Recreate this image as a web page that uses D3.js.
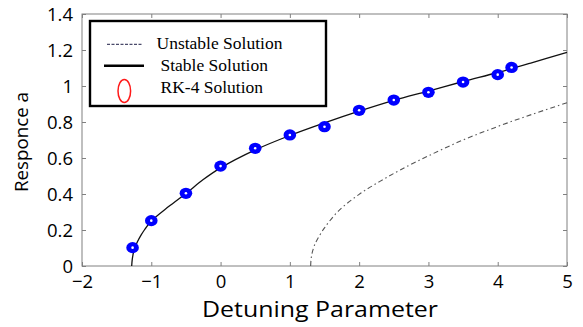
<!DOCTYPE html>
<html>
<head>
<meta charset="utf-8">
<script src="https://cdn.jsdelivr.net/npm/d3@7"></script>
<style>
  html, body { margin: 0; padding: 0; background: #fff; }
  svg { display: block; }
</style>
</head>
<body>
<svg id="chart" width="583" height="327"></svg>
<script>
// ---- data ----
const stableX = [-1.283, -1.275, -1.26, -1.24, -1.2, -1.15, -1.1, -1.0, -0.75, -0.5, -0.25, 0, 0.5, 1.0, 1.5, 2.0, 2.5, 3.0, 3.5, 4.0, 4.5, 5.0];
const stableY = [0, 0.035, 0.07, 0.1, 0.135, 0.17, 0.2, 0.25, 0.33, 0.403, 0.48, 0.545, 0.645, 0.725, 0.795, 0.86, 0.92, 0.972, 1.025, 1.075, 1.13, 1.187];

const unstableX = [1.30, 1.305, 1.315, 1.33, 1.36, 1.4, 1.5, 1.7, 2.0, 2.3, 2.6, 3.0, 3.5, 4.0, 4.5, 5.0];
const unstableY = [0, 0.033, 0.06, 0.085, 0.12, 0.15, 0.212, 0.305, 0.398, 0.47, 0.535, 0.612, 0.7, 0.775, 0.843, 0.907];

const rk4X = [-1.27, -1.0, -0.5, 0, 0.5, 1.0, 1.5, 2.0, 2.5, 3.0, 3.5, 4.0, 4.2];
const rk4Y = [0.102, 0.252, 0.404, 0.555, 0.654, 0.728, 0.774, 0.865, 0.922, 0.965, 1.022, 1.063, 1.103];

const xTicks = [-2, -1, 0, 1, 2, 3, 4, 5];
const yTicks = [0, 0.2, 0.4, 0.6, 0.8, 1, 1.2, 1.4];
const xTickLabels = ["\u22122", "\u22121", "0", "1", "2", "3", "4", "5"];
const yTickLabels = ["0", "0.2", "0.4", "0.6", "0.8", "1", "1.2", "1.4"];

const legendLabels = ["Unstable Solution", "Stable Solution", "RK-4 Solution"];
const xTitle = "Detuning Parameter";
const yTitle = "Responce a";

// ---- layout ----
const svg = d3.select("#chart");
const L = 82, R = 567, T = 14, B = 266;
const x = d3.scaleLinear().domain([-2, 5]).range([L, R]);
const y = d3.scaleLinear().domain([0, 1.4]).range([B, T]);
const sansFont = "'Open Sans', sans-serif";
const serifFont = "'Liberation Serif', 'Times New Roman', serif";
const axisColor = "#808080";

// frame
svg.append("rect").attr("x", L).attr("y", T).attr("width", R - L).attr("height", B - T)
  .attr("fill", "none").attr("stroke", axisColor).attr("stroke-width", 1);

// axes with inward ticks
const tickLen = 4;
const gB = svg.append("g").attr("transform", `translate(0,${B})`)
  .call(d3.axisBottom(x).tickValues(xTicks).tickSizeInner(-tickLen).tickSizeOuter(0)
    .tickFormat((d, i) => xTickLabels[i]));
const gT = svg.append("g").attr("transform", `translate(0,${T})`)
  .call(d3.axisTop(x).tickValues(xTicks).tickSizeInner(-tickLen).tickSizeOuter(0).tickFormat(""));
const gL = svg.append("g").attr("transform", `translate(${L},0)`)
  .call(d3.axisLeft(y).tickValues(yTicks).tickSizeInner(-tickLen).tickSizeOuter(0)
    .tickFormat((d, i) => yTickLabels[i]));
const gR = svg.append("g").attr("transform", `translate(${R},0)`)
  .call(d3.axisRight(y).tickValues(yTicks).tickSizeInner(-tickLen).tickSizeOuter(0).tickFormat(""));
[gB, gT, gL, gR].forEach(g => {
  g.select(".domain").remove();
  g.selectAll(".tick line").attr("stroke", axisColor);
  g.selectAll(".tick text").attr("fill", "#000").style("font-family", sansFont).style("font-size", "18.5px");
});
gB.selectAll(".tick text").attr("dy", null).attr("y", 21.5);
gL.selectAll(".tick text").attr("x", -9).attr("dy", "0.36em");

// curves
svg.append("path").datum(stableX.map((v, i) => [v, stableY[i]]))
  .attr("d", d3.line().x(d => x(d[0])).y(d => y(d[1])).curve(d3.curveCatmullRom.alpha(0.5)))
  .attr("fill", "none").attr("stroke", "#111").attr("stroke-width", 1.3);
svg.append("path").datum(unstableX.map((v, i) => [v, unstableY[i]]))
  .attr("d", d3.line().x(d => x(d[0])).y(d => y(d[1])).curve(d3.curveCatmullRom.alpha(0.5)))
  .attr("fill", "none").attr("stroke", "#555").attr("stroke-width", 1.1)
  .attr("stroke-dasharray", "5,3,1.5,3");

// RK-4 markers
const pts = rk4X.map((v, i) => [v, rk4Y[i]]);
const mk = svg.append("g");
mk.selectAll("ellipse.o").data(pts).join("ellipse").attr("class", "o")
  .attr("cx", d => x(d[0])).attr("cy", d => y(d[1])).attr("rx", 6.3).attr("ry", 5.6).attr("fill", "#0000ff");
mk.selectAll("circle.i").data(pts).join("circle").attr("class", "i")
  .attr("cx", d => x(d[0])).attr("cy", d => y(d[1])).attr("r", 1.3).attr("fill", "#fff");

// legend
const lg = svg.append("g");
lg.append("rect").attr("x", 90).attr("y", 21).attr("width", 236).attr("height", 85)
  .attr("fill", "#fff").attr("stroke", "#000").attr("stroke-width", 2.4);
lg.append("line").attr("x1", 107).attr("x2", 142).attr("y1", 44.3).attr("y2", 44.3)
  .attr("stroke", "#4a4a6a").attr("stroke-width", 1.2).attr("stroke-dasharray", "3,1.5");
lg.append("line").attr("x1", 104).attr("x2", 144).attr("y1", 65.7).attr("y2", 65.7)
  .attr("stroke", "#000").attr("stroke-width", 2.4);
lg.append("ellipse").attr("cx", 124.3).attr("cy", 91).attr("rx", 6.3).attr("ry", 11.5)
  .attr("fill", "none").attr("stroke", "#ff1a1a").attr("stroke-width", 1.5);
const lx = [156.5, 160.5, 160.5], ly = [48.5, 70.5, 92.7];
legendLabels.forEach((t, i) => {
  lg.append("text").attr("x", lx[i]).attr("y", ly[i]).text(t)
    .style("font-family", serifFont).style("font-size", "17.5px").attr("fill", "#000");
});

// axis titles
svg.append("text").attr("x", 320).attr("y", 316.7).attr("text-anchor", "middle")
  .attr("textLength", 236).attr("lengthAdjust", "spacingAndGlyphs")
  .style("font-family", sansFont).style("font-size", "22px").attr("fill", "#000").text(xTitle);
svg.append("text").attr("transform", "translate(28,142) rotate(-90)").attr("text-anchor", "middle")
  .attr("textLength", 100).attr("lengthAdjust", "spacingAndGlyphs")
  .style("font-family", sansFont).style("font-size", "18px").attr("fill", "#000").text(yTitle);
</script>
</body>
</html>
